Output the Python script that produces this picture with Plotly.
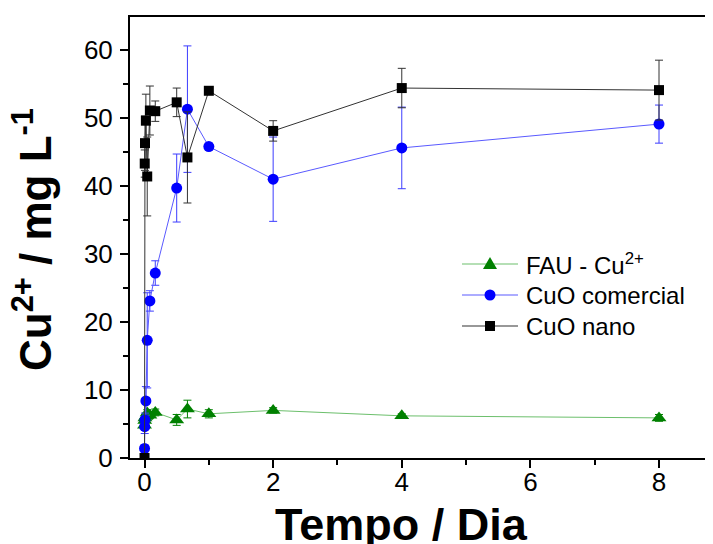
import plotly.graph_objects as go

# Time (days)
tempo = [0, 0.003, 0.007, 0.021, 0.042, 0.083, 0.167, 0.5, 0.667, 1, 2, 4, 8]

fau_cu = [4.8, 5.5, 5.9, 6.1, 6.6, 6.3, 6.7, 5.6, 7.2, 6.5, 7.0, 6.2, 5.9]
fau_cu_err = [0.5, 0.5, 0.5, 0.5, 0.5, 0.5, 0.5, 0.8, 1.3, 0.6, 0.4, 0.3, 0.5]

cuo_comercial = [1.4, 4.6, 5.6, 8.4, 17.3, 23.1, 27.2, 39.7, 51.3, 45.8, 41.0, 45.6, 49.1]
cuo_comercial_err = [0.5, 1.0, 1.0, 2.1, 7.0, 1.5, 1.8, 5.0, 9.3, 0.5, 6.2, 6.0, 2.8]

cuo_nano = [0, 43.3, 46.3, 49.6, 41.4, 51.1, 51.0, 52.3, 44.2, 54.0, 48.1, 54.4, 54.1]
cuo_nano_err = [0, 2.0, 4.0, 3.9, 5.8, 3.6, 1.5, 2.1, 6.7, 0.3, 1.5, 2.9, 4.4]

series_names = ["FAU - Cu<sup>2+</sup>", "CuO comercial", "CuO nano"]
line_colors = ["#6cbf6c", "#5a5aff", "#333333"]
marker_colors = ["#008000", "#0000ff", "#000000"]
err_colors = ["#008000", "#3c3cff", "#333333"]

FONT = "Arial, Liberation Sans, sans-serif"

# plot area geometry on the page (page has an 8px body margin)
PL, PT, PB, PW, PH = 130, 17, 458, 591, 441
def px(sx):
    return (sx - PL) / PW
def py(sy):
    return (PB - sy) / PH

fig = go.Figure()

specs = [
    (fau_cu, fau_cu_err, "triangle-up", 13),
    (cuo_comercial, cuo_comercial_err, "circle", 11),
    (cuo_nano, cuo_nano_err, "square", 10),
]
for i, (vals, errs, sym, size) in enumerate(specs):
    fig.add_trace(go.Scatter(
        x=tempo, y=vals, name=series_names[i], mode="lines+markers", showlegend=False,
        line=dict(color=line_colors[i], width=1),
        marker=dict(symbol=sym, size=size, color=marker_colors[i]),
        error_y=dict(type="data", array=errs, visible=True, color=err_colors[i], thickness=1, width=4),
    ))

# custom legend (line - marker - line, text)
shapes = []
annotations = []
legend_rows = [264, 295, 326]
for i, sy in enumerate(legend_rows):
    shapes.append(dict(type="line", xref="paper", yref="paper",
                       x0=px(462), x1=px(518), y0=py(sy), y1=py(sy),
                       line=dict(color=line_colors[i], width=1.2)))
    if i == 0:
        shapes.append(dict(type="path", xref="paper", yref="paper",
                           xsizemode="pixel", ysizemode="pixel",
                           xanchor=px(490), yanchor=py(sy),
                           path="M-7,-5 L7,-5 L0,7 Z",
                           fillcolor=marker_colors[i], line=dict(width=0)))
    elif i == 1:
        shapes.append(dict(type="circle", xref="paper", yref="paper",
                           xsizemode="pixel", ysizemode="pixel",
                           xanchor=px(490), yanchor=py(sy),
                           x0=-5.5, x1=5.5, y0=-5.5, y1=5.5,
                           fillcolor=marker_colors[i], line=dict(width=0)))
    else:
        shapes.append(dict(type="rect", xref="paper", yref="paper",
                           xsizemode="pixel", ysizemode="pixel",
                           xanchor=px(490), yanchor=py(sy),
                           x0=-5, x1=5, y0=-5, y1=5,
                           fillcolor=marker_colors[i], line=dict(width=0)))
    annotations.append(dict(text=series_names[i], xref="paper", yref="paper",
                            x=px(524), y=py(sy), xanchor="left", yanchor="middle",
                            showarrow=False, font=dict(size=24, family=FONT, color="black")))

annotations.append(dict(text="<b>Tempo / Dia</b>", xref="paper", yref="paper",
                        x=px(401), y=py(524), xanchor="center", yanchor="middle",
                        showarrow=False, font=dict(size=45, family=FONT, color="black")))
annotations.append(dict(text="<b>Cu<sup>2+</sup> / mg L<sup>-1</sup></b>", xref="paper", yref="paper",
                        x=px(32), y=py(240), xanchor="center", yanchor="middle",
                        textangle=-90, showarrow=False, font=dict(size=44, family=FONT, color="black")))

fig.update_layout(
    width=713, height=544,
    margin=dict(l=PL - 8, r=0, t=PT - 8, b=544 - (PB - 8)),
    paper_bgcolor="white", plot_bgcolor="white",
    font=dict(family=FONT, color="black"),
    showlegend=False,
    xaxis=dict(
        range=[-0.226, 8.964], showgrid=False, zeroline=False,
        showline=True, linewidth=2, linecolor="black", mirror=True,
        ticks="outside", ticklen=8, tickwidth=1.5, tickcolor="black",
        tickmode="array", tickvals=[0, 2, 4, 6, 8],
        tickfont=dict(size=26, family=FONT, color="black"),
        ticklabelstandoff=-8,
        minor=dict(tickvals=[1, 3, 5, 7], ticks="outside", ticklen=5, tickwidth=1.5, tickcolor="black"),
    ),
    yaxis=dict(
        range=[0, 64.85], showgrid=False, zeroline=False,
        showline=True, linewidth=2, linecolor="black", mirror=False,
        ticks="outside", ticklen=8, tickwidth=1.5, tickcolor="black",
        tickmode="array", tickvals=[0, 10, 20, 30, 40, 50, 60],
        tickfont=dict(size=26, family=FONT, color="black"),
        ticklabelstandoff=2,
        minor=dict(tickvals=[5, 15, 25, 35, 45, 55], ticks="outside", ticklen=5, tickwidth=1.5, tickcolor="black"),
    ),
    shapes=shapes,
    annotations=annotations,
)

fig.write_html("out.html")
